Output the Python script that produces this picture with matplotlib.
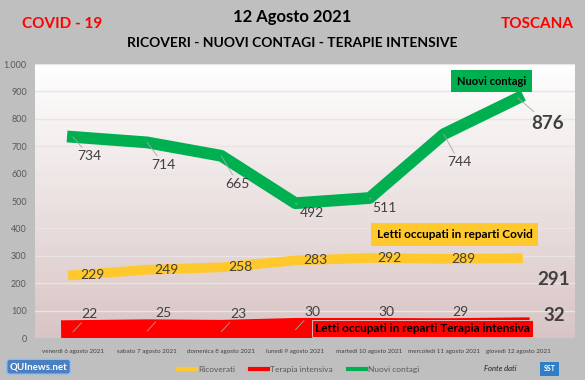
import numpy as np
import matplotlib
matplotlib.use("Agg")
import matplotlib.pyplot as plt

plt.rcParams['font.family'] = ['Lato', 'DejaVu Sans']

days = ['venerdì 6 agosto 2021', 'sabato 7 agosto 2021', 'domenica 8 agosto 2021',
        'lunedì 9 agosto 2021', 'martedì 10 agosto 2021', 'mercoledì 11 agosto 2021',
        'giovedì 12 agosto 2021']
ricoverati = [229, 249, 258, 283, 292, 289, 291]
terapia = [22, 25, 23, 30, 30, 29, 32]
contagi = [734, 714, 665, 492, 511, 744, 876]

YELLOW = '#ffc82c'
RED = '#ff0000'
GREEN = '#00b050'
LBL = '#404040'

fig = plt.figure(figsize=(5.85, 3.8), dpi=100, facecolor='#bfbfbf')
ax = fig.add_axes([0.06, 0.1105, 0.923, 0.721])
x = np.arange(len(days))
ax.set_xlim(-0.51, 6.77)
ax.set_ylim(0, 1000)

# gradient background
grad = np.linspace(0, 1, 256).reshape(-1, 1)
top = np.array([1.0, 1.0, 1.0])
bot = np.array([0.85, 0.77, 0.77])
img = top + (bot - top) * grad[:, :, None] * np.ones((1, 1, 3))
ax.imshow(img, extent=[0, 1, 0, 1], transform=ax.transAxes, aspect='auto', zorder=0)

for v in range(100, 1001, 100):
    ax.axhline(v, color='#ebe4e4', lw=1, zorder=1)

ax.plot(x, contagi, color=GREEN, lw=8.5, solid_capstyle='projecting', zorder=3)
ax.plot(x, ricoverati, color=YELLOW, lw=7, solid_capstyle='projecting', zorder=3)
ax.plot(x, terapia, color=RED, lw=17, solid_capstyle='projecting', zorder=3)

for s in ax.spines.values():
    s.set_visible(False)
ax.set_yticks(range(0, 1001, 100))
ax.set_yticklabels(['0', '100', '200', '300', '400', '500', '600', '700', '800', '900', '1.000'])
ax.set_xticks(x)
ax.set_xticklabels(days, fontsize=4.5, color=LBL)
ax.tick_params(axis='y', labelsize=6.5, colors='#595959', length=0, pad=6)
ax.tick_params(axis='x', length=0, pad=8)

lead = dict(arrowstyle='-', color='#a6a6a6', lw=0.6, shrinkA=0, shrinkB=0)

# green labels
goff = [(12, -14), (12, -16), (12, -20), (12, -7), (11, -7), (11, -20)]
for i, (dx, dy) in enumerate(goff):
    ax.annotate(str(contagi[i]), (x[i], contagi[i]), xytext=(dx, dy), textcoords='offset points',
                fontsize=10, color=LBL, ha='center', va='center', arrowprops=lead, zorder=5)
ax.annotate(str(contagi[6]), (x[6], contagi[6]), xytext=(21, -18), textcoords='offset points',
            fontsize=13.5, fontweight='bold', color=LBL, ha='center', va='center',
            arrowprops=lead, zorder=5)

# yellow labels
for i in range(6):
    ax.annotate(str(ricoverati[i]), (x[i], ricoverati[i]), xytext=(14, 0), textcoords='offset points',
                fontsize=10, color=LBL, ha='center', va='center', zorder=5)
ax.annotate(str(ricoverati[6]), (x[6], ricoverati[6]), xytext=(26, -15), textcoords='offset points',
            fontsize=13.5, fontweight='bold', color=LBL, ha='center', va='center', zorder=5)

# red labels
for i in range(6):
    ax.annotate(str(terapia[i]), (x[i], terapia[i]), xytext=(12, 13), textcoords='offset points',
                fontsize=10, color=LBL, ha='center', va='center', arrowprops=lead, zorder=5)
ax.annotate(str(terapia[6]), (x[6], terapia[6]), xytext=(26, 10), textcoords='offset points',
            fontsize=13.5, fontweight='bold', color=LBL, ha='center', va='center', zorder=5)

# series boxes
ax.text(0.845, 0.938, 'Nuovi contagi', transform=ax.transAxes, fontsize=8, fontweight='bold',
        ha='center', va='center', zorder=6,
        bbox=dict(boxstyle='square,pad=0.5', fc=GREEN, ec='none'))
ax.text(0.777, 0.378, 'Letti occupati in reparti Covid', transform=ax.transAxes, fontsize=8.5,
        fontweight='bold', ha='center', va='center', zorder=6,
        bbox=dict(boxstyle='square,pad=0.5', fc=YELLOW, ec='none'))
ax.text(0.717, 0.035, 'Letti occupati in reparti Terapia intensiva', transform=ax.transAxes,
        fontsize=8.5, fontweight='bold', ha='center', va='center', zorder=6,
        bbox=dict(boxstyle='square,pad=0.25', fc=RED, ec='#d8d0d0', lw=0.6))

# titles
fig.text(0.5, 0.955, '12 Agosto 2021', fontsize=12, fontweight='bold', ha='center', va='center')
fig.text(0.5, 0.887, 'RICOVERI - NUOVI CONTAGI - TERAPIE INTENSIVE', fontsize=10,
         fontweight='bold', ha='center', va='center')
fig.text(0.106, 0.937, 'COVID - 19', fontsize=11, fontweight='bold', color=RED, ha='center', va='center')
fig.text(0.918, 0.937, 'TOSCANA', fontsize=11, fontweight='bold', color=RED, ha='center', va='center')

# legend
h = [plt.Line2D([], [], color=c, lw=3) for c in (YELLOW, RED, GREEN)]
leg = fig.legend(h, ['Ricoverati', 'Terapia intensiva', 'Nuovi contagi'], loc='center',
                 bbox_to_anchor=(0.51, 0.027), ncol=3, frameon=False, fontsize=6,
                 handlelength=2.2, handletextpad=0.2, columnspacing=1.8)
for t in leg.get_texts():
    t.set_color('#595959')

# logos
fig.text(0.066, 0.035, 'QUInews.net', fontsize=7, fontweight='bold', color='white',
         ha='center', va='center', bbox=dict(boxstyle='round,pad=0.3', fc='#4a7fc1', ec='#9bbbe0'))
fig.text(0.855, 0.03, 'Fonte dati', fontsize=5.5, style='italic', color='#202020',
         ha='center', va='center')
fig.text(0.94, 0.03, 'SST', fontsize=5, fontweight='bold', color='white', ha='center', va='center',
         bbox=dict(boxstyle='square,pad=0.5', fc='#2f7fc8', ec='none'))

fig.savefig('out.png', dpi=100, facecolor=fig.get_facecolor())
